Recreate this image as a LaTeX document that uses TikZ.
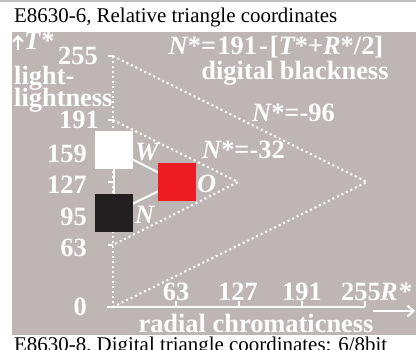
\documentclass[tikz,border=0pt]{standalone}
\usepackage{fontspec}
\setmainfont{Liberation Serif}
\usetikzlibrary{arrows.meta}
\definecolor{bg}{RGB}{190,182,180}
\definecolor{redo}{RGB}{237,28,36}
\definecolor{blackn}{RGB}{35,31,32}
\begin{document}
\begin{tikzpicture}[x=1bp,y=-1bp,
  lab/.style={text=white,font=\fontsize{26.5}{26.5}\selectfont\bfseries,inner sep=0pt},
  ilab/.style={text=white,font=\fontsize{26.5}{26.5}\selectfont\bfseries\itshape,inner sep=0pt},
  captxt/.style={text=black,font=\fontsize{21}{21}\selectfont,inner sep=0pt,anchor=base west},
  dots/.style={white,line width=2bp,dash pattern=on 2bp off 3bp},
  wline/.style={white,line width=2bp},
  sq/.style={minimum size=38bp,inner sep=0pt,draw=none}]
\useasboundingbox (0,0) rectangle (416,350);
\fill[bg] (12,32) rectangle (416,335);
\draw[black!25,line width=1.5bp] (0,0.75) -- (416,0.75);
% captions
\node[captxt] (title) at (14,22) {E8630-6, Relative triangle coordinates};
\node[captxt] (caption) at (14,351) {E8630-8, Digital triangle coordinates: 6/8bit};
% coordinates
\coordinate (t255) at (113,56);
\coordinate (t191) at (113,120);
\coordinate (t127) at (113,182);
\coordinate (t63) at (113,245);
\coordinate (orig) at (113,307);
\coordinate (apexA) at (367,182);
\coordinate (apexB) at (238,182);
% dotted triangles
\draw[dots] (t255) -- (orig);
\draw[dots] (t255) -- (apexA) -- (orig);
\draw[dots] (t191) -- (apexB) -- (t63);
% vertical ticks
\foreach \c in {t255,t191,t127,t63} \draw[wline] (\c) -- ++(-5,0);
% horizontal axis
\coordinate (hstart) at (107,307);
\coordinate (hend) at (365,307);
\draw[wline] (hstart) -- (hend);
\coordinate (r63) at (176,307);
\coordinate (r127) at (239,307);
\coordinate (r191) at (302,307);
\coordinate (r255) at (365,307);
\foreach \c in {r63,r127,r191,r255} \draw[wline] (\c) -- ++(0,-6);
% arrows
\coordinate (ra1) at (373,311);
\coordinate (ra2) at (415,311);
\draw[white,line width=2bp,-{Straight Barb[length=6bp,width=11bp]}] (ra1) -- (ra2);
\coordinate (ta1) at (18,50);
\coordinate (ta2) at (18,35);
\draw[white,line width=2.2bp,-{Straight Barb[length=5bp,width=10bp]}] (ta1) -- (ta2);
% squares and connectors
\coordinate (wc) at (114,150);
\coordinate (nc) at (114,213);
\coordinate (oc) at (177,182);
\draw[wline] (wc) -- (nc);
\draw[wline] (wc) -- (oc);
\draw[wline] (nc) -- (oc);
\node[sq,fill=white] (w) at (wc) {};
\node[sq,fill=blackn] (n) at (nc) {};
\node[sq,fill=redo] (o) at (oc) {};
% labels on squares
\node[ilab,anchor=base west] (wl) at (135,160) {W};
\node[ilab,anchor=base west] (ol) at (197,192) {O};
\node[ilab,anchor=base west] (nl) at (135,223) {N};
% vertical labels
\node[ilab,anchor=base west] (tstar) at (24,49) {T*};
\node[lab,anchor=base east] (l255) at (98,64) {255};
\node[lab,anchor=base west] (light1) at (14,84) {light-};
\node[lab,anchor=base west] (light2) at (14,106) {lightness};
\node[lab,anchor=base east] (l191) at (99,128) {191};
\node[lab,anchor=base east] (l159) at (87,162) {159};
\node[lab,anchor=base east] (l127) at (87,193) {127};
\node[lab,anchor=base east] (l95) at (87,225) {95};
\node[lab,anchor=base east] (l63) at (87,256) {63};
\node[lab,anchor=base east] (l0) at (87,315) {0};
% horizontal labels
\node[lab,anchor=base] (h63) at (176,300) {63};
\node[lab,anchor=base] (h127) at (238,300) {127};
\node[lab,anchor=base] (h191) at (302,300) {191};
\node[lab,anchor=base] (h255) at (361,300) {255};
\node[ilab,anchor=base west] (rstar) at (380,300) {R*};
\node[lab,anchor=base] (rad) at (256,332) {radial chromaticness};
% formula
\node[lab,anchor=base] (formula) at (276,54) {\itshape N\upshape*=\kern1.5bp191\kern2bp-\kern2bp[\itshape T\upshape*+\itshape R\upshape*/2]};
\node[lab,anchor=base] (dig) at (295,79) {digital blackness};
\node[lab,anchor=base west] (n96) at (252,121) {\itshape N\upshape*=-96};
\node[lab,anchor=base west] (n32) at (202,158) {\itshape N\upshape*=-32};
\end{tikzpicture}
\end{document}
